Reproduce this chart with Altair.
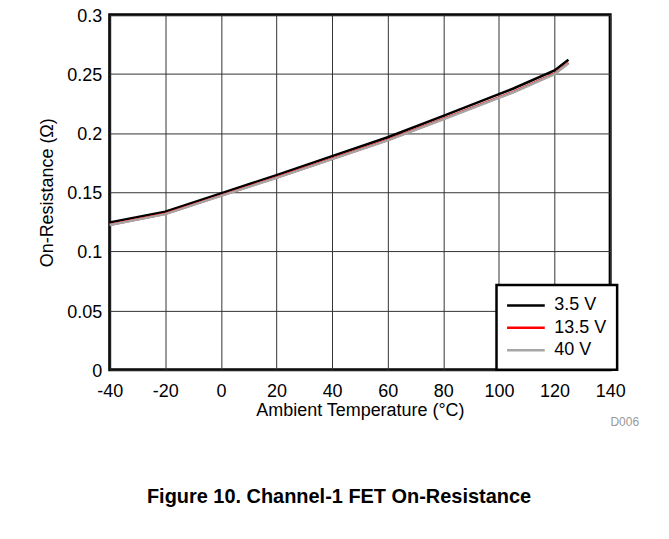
import altair as alt
import pandas as pd

temps = [-40, -20, 0, 20, 40, 60, 80, 100, 105, 120, 125]
r_3v5 = [0.1245, 0.1335, 0.1490, 0.1645, 0.1805, 0.1965, 0.2145, 0.2330, 0.2375, 0.2530, 0.2620]
r_13v5 = [0.1225, 0.1318, 0.1472, 0.1625, 0.1783, 0.1942, 0.2120, 0.2302, 0.2347, 0.2502, 0.2595]
r_40v = [0.1223, 0.1315, 0.1469, 0.1622, 0.1780, 0.1938, 0.2116, 0.2298, 0.2343, 0.2498, 0.2591]
series = ["3.5 V", "13.5 V", "40 V"]
colors = ["#000000", "#ff0000", "#a6a6a6"]

rows = []
for name, vals, order in zip(series, [r_3v5, r_13v5, r_40v], [3, 1, 2]):
    for t, v in zip(temps, vals):
        rows.append({"T": t, "R": v, "Series": name, "ord": order})
df = pd.DataFrame(rows)

font = "Liberation Sans"

lines = alt.Chart(df).mark_line(strokeWidth=2.5).encode(
    x=alt.X("T:Q", scale=alt.Scale(domain=[-40, 140], nice=False),
            axis=alt.Axis(title="Ambient Temperature (°C)", values=list(range(-40, 141, 20)),
                          labelExpr="datum.value + ''", labelFlush=False,
                          grid=True, gridColor="#333333", gridWidth=1, ticks=False,
                          domain=False, labelPadding=13, titlePadding=1,
                          labelFontSize=18, titleFontSize=18, labelFont=font, titleFont=font,
                          titleFontWeight="normal", labelColor="#000", titleColor="#000")),
    y=alt.Y("R:Q", scale=alt.Scale(domain=[0, 0.3], nice=False),
            axis=alt.Axis(title="On-Resistance (Ω)", values=[0, 0.05, 0.1, 0.15, 0.2, 0.25, 0.3],
                          labelExpr="datum.value + ''", labelFlush=False, labelOffset=1.5,
                          grid=True, gridColor="#333333", gridWidth=1, ticks=False,
                          domain=False, labelPadding=8, titlePadding=10,
                          labelFontSize=18, titleFontSize=18, labelFont=font, titleFont=font,
                          titleFontWeight="normal", labelColor="#000", titleColor="#000")),
    color=alt.Color("Series:N", scale=alt.Scale(domain=series, range=colors),
                    legend=alt.Legend(title=None, orient="none", legendX=388, legendY=271,
                                      symbolType="M-2.1,0H2.1", symbolSize=324, symbolStrokeWidth=2.5,
                                      symbolOffset=9, labelOffset=18,
                                      labelFontSize=18, labelFont=font, labelColor="#000",
                                      strokeColor="#000", fillColor="#fff", padding=10,
                                      rowPadding=2.5)),
    order=alt.Order("ord:Q"),
    detail="Series:N",
)

note = alt.Chart(pd.DataFrame({"t": ["D006"]})).mark_text(
    align="right", baseline="middle", fontSize=12, font=font, color="#999999"
).encode(x=alt.value(531), y=alt.value(408), text="t:N")

chart = alt.layer(lines, note).properties(
    width=502, height=356,
    title=alt.TitleParams("Figure 10. Channel-1 FET On-Resistance", orient="bottom",
                          anchor="middle", dx=-21, offset=60, fontSize=20, font=font,
                          fontWeight="bold", color="#000"),
    autosize=alt.AutoSizeParams(type="none"),
    padding={"left": 102, "top": 6, "right": 51, "bottom": 170},
).configure_view(stroke="#000", strokeWidth=3).configure_legend(strokeWidth=2.5)

chart.save("out.html", embed_options={"renderer": "svg", "actions": False})
